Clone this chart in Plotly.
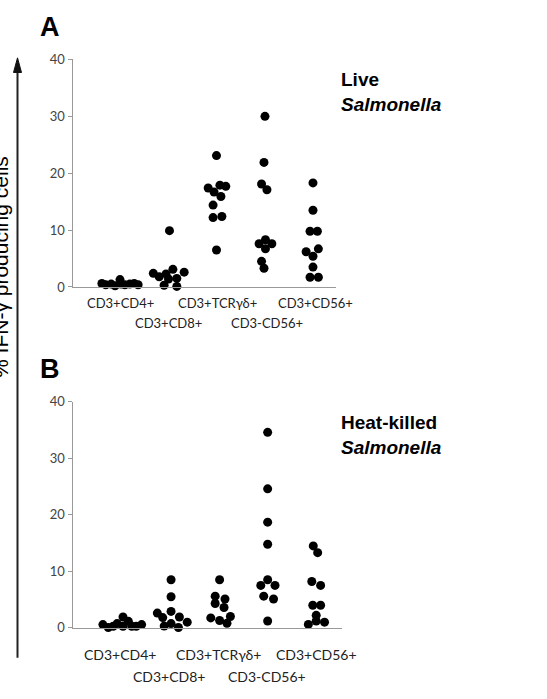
import plotly.graph_objects as go

W, H = 547, 699

categories = ["CD3+CD4+", "CD3+CD8+", "CD3+TCRγδ+", "CD3-CD56+", "CD3+CD56+"]
label_row = [0, 1, 0, 1, 0]
y_ticks = [0, 10, 20, 30, 40]

# Panel A: live Salmonella (% IFN-γ producing cells)
live_values = [
    [0.6, 0.4, 0.5, 0.2, 1.3, 0.5, 0.4, 0.5, 0.6, 0.4],
    [2.4, 1.8, 2.3, 3.1, 1.4, 1.5, 2.6, 0.3, 0.1, 9.9],
    [23.1, 17.4, 16.7, 17.9, 17.7, 15.9, 14.4, 12.2, 12.4, 6.5],
    [30.0, 21.9, 18.1, 17.1, 7.6, 8.3, 7.6, 6.7, 4.5, 3.3],
    [18.3, 13.5, 9.8, 9.8, 6.2, 6.7, 5.4, 3.5, 1.7, 1.7],
]
live_jitter = [
    [-0.37, -0.29, -0.18, -0.10, 0.0, 0.02, 0.10, 0.20, 0.29, 0.37],
    [-0.32, -0.20, -0.06, 0.08, -0.01, 0.16, 0.31, -0.10, 0.16, 0.01],
    [-0.03, -0.20, -0.08, 0.04, 0.16, 0.06, -0.10, -0.10, 0.08, -0.03],
    [-0.04, -0.06, -0.11, 0.0, -0.16, -0.03, 0.10, -0.03, -0.11, -0.06],
    [-0.06, -0.06, -0.12, 0.03, -0.20, 0.05, -0.06, -0.06, -0.12, 0.05],
]

# Panel B: heat-killed Salmonella
hk_values = [
    [0.57, 0.05, 0.28, 0.74, 1.9, 0.28, 1.14, 0.28, 0.28, 0.57],
    [2.6, 1.8, 8.5, 5.5, 2.9, 0.3, 0.74, 0.05, 1.9, 1.0],
    [8.5, 5.6, 5.1, 4.3, 3.6, 1.75, 1.3, 0.8, 2.0],
    [34.6, 24.6, 18.7, 14.8, 8.5, 7.5, 7.5, 5.6, 5.1, 1.2],
    [14.5, 13.3, 8.2, 7.5, 4.0, 4.0, 2.2, 1.2, 0.6, 1.0],
]
hk_jitter = [
    [-0.35, -0.24, -0.14, -0.06, 0.06, 0.06, 0.17, 0.24, 0.33, 0.44],
    [-0.24, -0.13, 0.04, 0.04, 0.04, -0.10, 0.04, 0.19, 0.21, 0.37],
    [0.03, -0.06, 0.14, -0.06, 0.12, -0.15, 0.03, 0.18, 0.25],
    [0.01, 0.01, 0.01, 0.01, 0.01, -0.13, 0.16, -0.07, 0.13, 0.01],
    [-0.06, 0.03, -0.09, 0.09, -0.07, 0.09, 0.0, 0.0, -0.16, 0.17],
]

FONT_LBL = "Lato, 'Open Sans', sans-serif"
FONT_BOLD = "'Liberation Sans', Arial, sans-serif"

def px_x(p):
    return p / W

def px_y(p):
    return 1 - p / H

fig = go.Figure()

for vals, jit, xa, ya in [(live_values, live_jitter, "x", "y"), (hk_values, hk_jitter, "x2", "y2")]:
    xs, ys = [], []
    for i, (v, j) in enumerate(zip(vals, jit)):
        for vv, jj in zip(v, j):
            xs.append(i + jj)
            ys.append(vv)
    fig.add_trace(go.Scatter(
        x=xs, y=ys, mode="markers", xaxis=xa, yaxis=ya,
        marker=dict(size=9, color="black", line=dict(width=0)),
        cliponaxis=False, showlegend=False, hoverinfo="skip"))

axis_common_y = dict(
    range=[0, 40], tickvals=y_ticks, ticks="outside", ticklen=4, tickcolor="#999",
    showline=True, linecolor="#999", linewidth=1, showgrid=False, zeroline=False,
    tickfont=dict(family=FONT_LBL, size=13, color="#444"))
axis_common_x = dict(
    showline=True, linecolor="#999", linewidth=1, showgrid=False, zeroline=False,
    showticklabels=False, ticks="")

fig.update_layout(
    width=W, height=H, margin=dict(l=0, r=0, t=0, b=0),
    paper_bgcolor="white", plot_bgcolor="white",
    xaxis=dict(domain=[px_x(72.5), px_x(336)], range=[-0.97, 4.41], anchor="y", **axis_common_x),
    yaxis=dict(domain=[px_y(285.5), px_y(52.7)], anchor="x", **axis_common_y),
    xaxis2=dict(domain=[px_x(72.5), px_x(341.7)], range=[-0.97, 4.52], anchor="y2", **axis_common_x),
    yaxis2=dict(domain=[px_y(634.3), px_y(403.1)], anchor="x2", **axis_common_y),
)

ann = []
# category labels (staggered rows)
for i, (c, r) in enumerate(zip(categories, label_row)):
    ann.append(dict(x=i, xref="x", y=px_y(302 + 20 * r), yref="paper", text=c, showarrow=False,
                    xanchor="center", yanchor="middle",
                    font=dict(family=FONT_LBL, size=13, color="#222")))
    ann.append(dict(x=i, xref="x2", y=px_y(662 + 22 * r), yref="paper", text=c, showarrow=False,
                    xanchor="center", yanchor="middle",
                    font=dict(family=FONT_LBL, size=14, color="#222")))

# panel letters
ann.append(dict(x=px_x(38), y=px_y(19), xref="paper", yref="paper", text="<b>A</b>", showarrow=False,
                xanchor="left", yanchor="middle", font=dict(family=FONT_BOLD, size=27, color="black")))
ann.append(dict(x=px_x(38), y=px_y(369), xref="paper", yref="paper", text="<b>B</b>", showarrow=False,
                xanchor="left", yanchor="middle", font=dict(family=FONT_BOLD, size=27, color="black")))

# condition labels
for txt, yy in [("<b>Live</b>", 73), ("<b><i>Salmonella</i></b>", 99),
                ("<b>Heat-killed</b>", 424), ("<b><i>Salmonella</i></b>", 450)]:
    ann.append(dict(x=px_x(339), y=px_y(yy), xref="paper", yref="paper", text=txt, showarrow=False,
                    xanchor="left", yanchor="middle", font=dict(family=FONT_BOLD, size=19, color="black")))

# rotated y title (partly cut off at the left edge, as in the source figure)
ann.append(dict(x=px_x(1), y=px_y(265), xref="paper", yref="paper", text="% IFN-γ producing cells",
                showarrow=False, textangle=-90, xanchor="center", yanchor="middle",
                font=dict(family=FONT_BOLD, size=21, color="black")))

fig.update_layout(annotations=ann)

# long arrow on the left
fig.add_shape(type="line", xref="paper", yref="paper", x0=px_x(17.5), x1=px_x(17.5),
              y0=px_y(665), y1=px_y(64), line=dict(color="#222", width=2))
fig.add_shape(type="path", xref="paper", yref="paper",
              path=f"M {px_x(13.5)} {px_y(66)} L {px_x(21.5)} {px_y(66)} L {px_x(17.5)} {px_y(51)} Z",
              fillcolor="#111", line=dict(color="#111", width=1))

fig.write_html("out.html")
